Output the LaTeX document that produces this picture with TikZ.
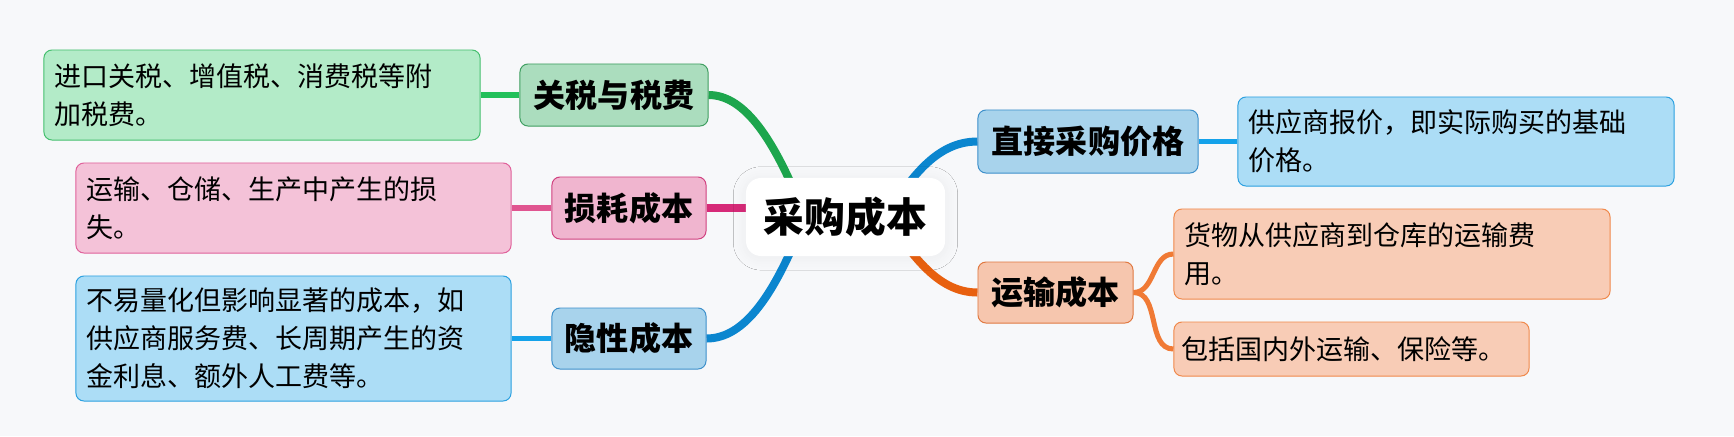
\documentclass[tikz,border=0pt]{standalone}
\usepackage{fontspec}
\setmainfont{Noto Sans CJK SC}
\usetikzlibrary{backgrounds,shadows.blur}

\begin{document}
\begin{tikzpicture}[x=0.025cm, y=-0.025cm,
    box/.style={draw, rounded corners=0.2cm, line width=0.7pt, inner sep=0pt},
    leaf/.style={box, align=left, inner xsep=0.275cm, minimum height=2.25cm,
        font=\fontsize{19.2pt}{27pt}\selectfont},
    branch/.style={box, minimum height=1.55cm,
        font=\fontsize{22.8pt}{28pt}\selectfont\bfseries},
    link/.style={line width=5.7pt},
    twig/.style={line width=4.2pt}]
    \definecolor{paper}{HTML}{F7F8FA}
    \definecolor{greenLine}{HTML}{1DA64D}
    \definecolor{greenTwig}{HTML}{22C05A}
    \definecolor{greenFill}{HTML}{ABDDBE}
    \definecolor{greenEdge}{HTML}{3E9E60}
    \definecolor{greenLeaf}{HTML}{B3EBC8}
    \definecolor{greenLeafEdge}{HTML}{45BF6E}
    \definecolor{pinkLine}{HTML}{D62A78}
    \definecolor{pinkTwig}{HTML}{E05590}
    \definecolor{pinkFill}{HTML}{F0B5CF}
    \definecolor{pinkEdge}{HTML}{D0407F}
    \definecolor{pinkLeaf}{HTML}{F4C2D8}
    \definecolor{pinkLeafEdge}{HTML}{E0609A}
    \definecolor{blueLine}{HTML}{0B86CF}
    \definecolor{blueTwig}{HTML}{14A2EA}
    \definecolor{blueFill}{HTML}{A8D3EC}
    \definecolor{blueEdge}{HTML}{3C8FCA}
    \definecolor{blueLeaf}{HTML}{ACDDF6}
    \definecolor{blueLeafEdge}{HTML}{2AA0E0}
    \definecolor{orangeLine}{HTML}{E8600F}
    \definecolor{orangeTwig}{HTML}{F07A35}
    \definecolor{orangeFill}{HTML}{F6C6AE}
    \definecolor{orangeEdge}{HTML}{E07840}
    \definecolor{orangeLeaf}{HTML}{F8CCB6}
    \definecolor{orangeLeafEdge}{HTML}{F0884A}

    \useasboundingbox (0,0) rectangle (1734,436);

    % centre
    \node[draw=none, fill=white, rounded corners=0.375cm, minimum width=4.975cm, minimum height=1.95cm,
        blur shadow={shadow xshift=0pt, shadow yshift=-1pt, shadow blur radius=9pt, shadow blur steps=12, shadow opacity=5},
        font=\fontsize{29pt}{34pt}\selectfont\bfseries] (cost) at (845.5,217) {采购成本};
    \coordinate (costL) at (805,217);
    \coordinate (costR) at (885,217);

    % left side
    \node[branch, fill=greenFill, draw=greenEdge, minimum width=4.7cm] (tax) at (614,95) {关税与税费};
    \node[leaf, fill=greenLeaf, draw=greenLeafEdge, text width=10.35cm] (taxLeaf) at (262,95)
        {进口关税、增值税、消费税等附\\加税费。};
    \node[branch, fill=pinkFill, draw=pinkEdge, minimum width=3.85cm] (loss) at (629,208) {损耗成本};
    \node[leaf, fill=pinkLeaf, draw=pinkLeafEdge, text width=10.325cm] (lossLeaf) at (293.5,208)
        {运输、仓储、生产中产生的损\\失。};
    \node[branch, fill=blueFill, draw=blueEdge, minimum width=3.85cm, minimum height=1.525cm] (hidden) at (629,338.5) {隐性成本};
    \node[leaf, fill=blueLeaf, draw=blueLeafEdge, text width=10.325cm, minimum height=3.125cm] (hiddenLeaf) at (293.5,338.5)
        {不易量化但影响显著的成本，如\\供应商服务费、长周期产生的资\\金利息、额外人工费等。};

    % right side
    \node[branch, fill=blueFill, draw=blueEdge, minimum width=5.5cm, minimum height=1.575cm] (direct) at (1088,141.5) {直接采购价格};
    \node[leaf, fill=blueLeaf, draw=blueLeafEdge, text width=10.35cm, minimum height=2.225cm] (directLeaf) at (1456,141.5)
        {供应商报价，即实际购买的基础\\价格。};
    \node[branch, fill=orangeFill, draw=orangeEdge, minimum width=3.875cm, minimum height=1.525cm] (trans) at (1055.5,292.5) {运输成本};
    \node[leaf, fill=orangeLeaf, draw=orangeLeafEdge, text width=10.35cm] (transLeafA) at (1392,254)
        {货物从供应商到仓库的运输费\\用。};
    \node[leaf, fill=orangeLeaf, draw=orangeLeafEdge, text width=8.475cm, minimum height=1.35cm, inner xsep=0.2cm] (transLeafB) at (1351.5,349)
        {包括国内外运输、保险等。};

    \begin{scope}[on background layer]
        \fill[paper] (0,0) rectangle (1734,436);

        \draw[link, greenLine] (tax.east) .. controls (745,95) and (775,140) .. (costL);
        \draw[link, pinkLine] (loss.east) -- (loss.east -| costL);
        \draw[link, blueLine] (hidden.east) .. controls (745,338.5) and (775,294) .. (costL);
        \draw[link, blueLine] (direct.west) .. controls (935,141.5) and (910,180) .. (costR);
        \draw[link, orangeLine] (trans.west) .. controls (935,292.5) and (910,250) .. (costR);

        \draw[twig, greenTwig] (tax.west) -- (taxLeaf.east);
        \draw[twig, pinkTwig] (loss.west) -- (lossLeaf.east);
        \draw[twig, blueTwig] (hidden.west) -- (hiddenLeaf.east);
        \draw[twig, blueTwig] (direct.east) -- (directLeaf.west);
        \draw[line width=3.6pt, orangeTwig] (trans.east) to[out=0, in=180] (transLeafA.west);
        \draw[line width=3.6pt, orangeTwig] (trans.east) to[out=0, in=180] (transLeafB.west);
    \end{scope}
\end{tikzpicture}
\end{document}
